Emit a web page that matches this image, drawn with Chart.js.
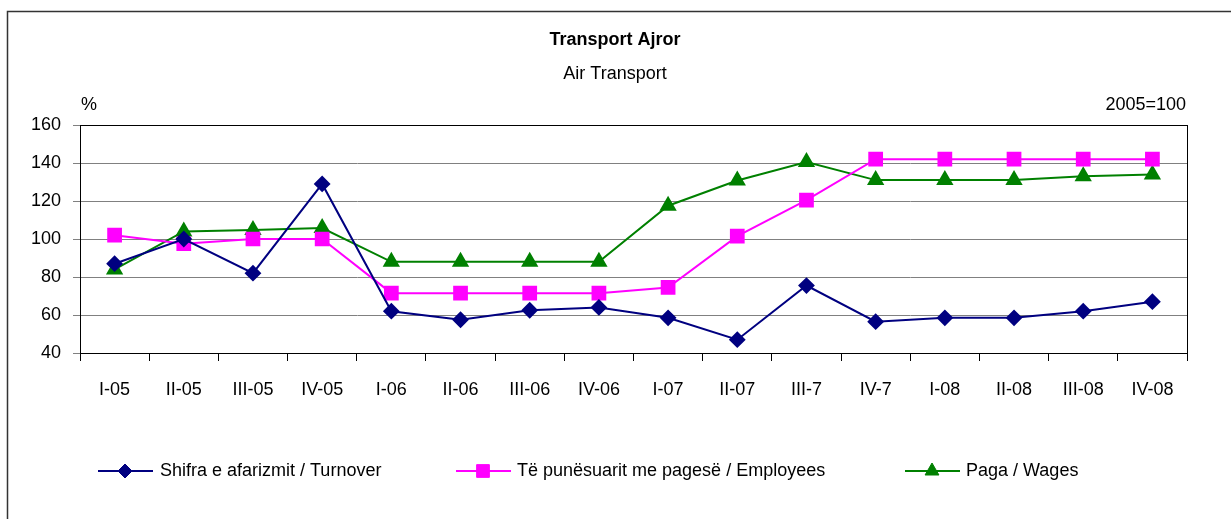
<!DOCTYPE html>
<html lang="sq">
<head>
    <meta charset="UTF-8">
    <title>Transport Ajror</title>
    <script src="https://cdn.jsdelivr.net/npm/chart.js"></script>
    <style>
        html, body { margin: 0; padding: 0; background: #fff; }
        #wrap { width: 1231px; height: 519px; position: relative; }
    </style>
</head>
<body>
    <div id="wrap"><canvas id="chart"></canvas></div>

    <script>
        // te dhenat
        const quarters = ['I-05', 'II-05', 'III-05', 'IV-05', 'I-06', 'II-06', 'III-06', 'IV-06',
                          'I-07', 'II-07', 'III-7', 'IV-7', 'I-08', 'II-08', 'III-08', 'IV-08'];
        const turnover  = [87, 100, 82, 129, 62, 57.5, 62.5, 64, 58.5, 47, 75.5, 56.5, 58.5, 58.5, 62, 67];
        const employees = [102, 97.5, 100, 100, 71.5, 71.5, 71.5, 71.5, 74.5, 101.5, 120.5, 142, 142, 142, 142, 142];
        const wages     = [84, 104, 104.7, 105.8, 88, 88, 88, 88, 117.5, 130.8, 140.5, 131, 131, 131, 133, 134];
        const seriesNames = ['Shifra e afarizmit / Turnover', 'Të punësuarit me pagesë / Employees', 'Paga / Wages'];
        const yTicks = [40, 60, 80, 100, 120, 140, 160];

        const FONT = "'Liberation Sans Narrow', 'Arial Narrow', 'Liberation Sans', Arial, sans-serif";

        const chrome = {
            id: 'chrome',
            afterDraw(chart) {
                const ctx = chart.ctx;
                const a = chart.chartArea;
                ctx.save();
                // korniza e jashtme
                ctx.strokeStyle = '#333';
                ctx.lineWidth = 1.5;
                ctx.strokeRect(7.5, 11.5, 1240, 520);
                // korniza e grafikut
                ctx.strokeStyle = '#000';
                ctx.lineWidth = 1;
                ctx.strokeRect(Math.round(a.left) + 0.5, Math.round(a.top) + 0.5,
                               Math.round(a.right - a.left), Math.round(a.bottom - a.top));
                ctx.fillStyle = '#000';
                ctx.textAlign = 'center';
                ctx.textBaseline = 'middle';
                ctx.font = 'bold 18px ' + FONT;
                ctx.fillText('Transport Ajror', 615, 40);
                ctx.font = '18px ' + FONT;
                ctx.fillText('Air Transport', 615, 74);
                ctx.textAlign = 'left';
                ctx.fillText('%', 81, 105);
                ctx.textAlign = 'right';
                ctx.fillText('2005=100', 1186, 105);

                // legjenda
                const items = [[98, 160], [456, 517], [905, 966]];
                ctx.textAlign = 'left';
                chart.data.datasets.forEach((ds, i) => {
                    const [x0, tx] = items[i];
                    const y = 471;
                    ctx.strokeStyle = ds.borderColor;
                    ctx.lineWidth = 2;
                    ctx.beginPath();
                    ctx.moveTo(x0, y);
                    ctx.lineTo(x0 + 55, y);
                    ctx.stroke();
                    ctx.fillStyle = ds.pointBackgroundColor;
                    ctx.strokeStyle = ds.pointBorderColor;
                    ctx.lineWidth = 1;
                    Chart.helpers.drawPoint(ctx, {
                        pointStyle: ds.pointStyle, radius: ds.pointRadius, rotation: 0, borderWidth: 1
                    }, x0 + 27, y);
                    ctx.fillStyle = '#000';
                    ctx.font = '18px ' + FONT;
                    ctx.fillText(ds.label, tx, y);
                });
                ctx.restore();
            }
        };

        function makeSet(label, data, color, style, r) {
            return {
                label: label,
                data: data,
                borderColor: color,
                backgroundColor: color,
                pointBackgroundColor: color,
                pointBorderColor: color,
                pointStyle: style,
                pointRadius: r,
                pointHoverRadius: r,
                borderWidth: 2,
                tension: 0
            };
        }

        new Chart(document.getElementById('chart'), {
            type: 'line',
            data: {
                labels: quarters,
                datasets: [
                    makeSet(seriesNames[0], turnover, '#000080', 'rectRot', 7),
                    makeSet(seriesNames[1], employees, '#FF00FF', 'rect', 9),
                    makeSet(seriesNames[2], wages, '#008000', 'triangle', 8)
                ]
            },
            options: {
                responsive: true,
                maintainAspectRatio: false,
                animation: false,
                layout: { padding: { top: 125, right: 44, left: 0, bottom: 0 } },
                plugins: {
                    legend: { display: false },
                    title: { display: false },
                    tooltip: { enabled: false }
                },
                scales: {
                    x: {
                        offset: true,
                        afterFit(scale) { scale.height = 166; },
                        border: { display: true, color: '#000', width: 1 },
                        grid: { drawOnChartArea: false, drawTicks: true, tickLength: 8, color: '#000', offset: true },
                        ticks: { color: '#000', font: { family: FONT, size: 18 }, padding: 18, maxRotation: 0, autoSkip: false }
                    },
                    y: {
                        min: 40,
                        max: 160,
                        afterFit(scale) { scale.width = 80; },
                        afterBuildTicks(scale) { scale.ticks = yTicks.map(v => ({ value: v })); },
                        border: { display: true, color: '#000', width: 1 },
                        grid: { color: '#808080', lineWidth: 1, tickLength: 7, drawTicks: true },
                        ticks: { color: '#000', font: { family: FONT, size: 18 }, padding: 12 }
                    }
                }
            },
            plugins: [chrome]
        });
    </script>
</body>
</html>
